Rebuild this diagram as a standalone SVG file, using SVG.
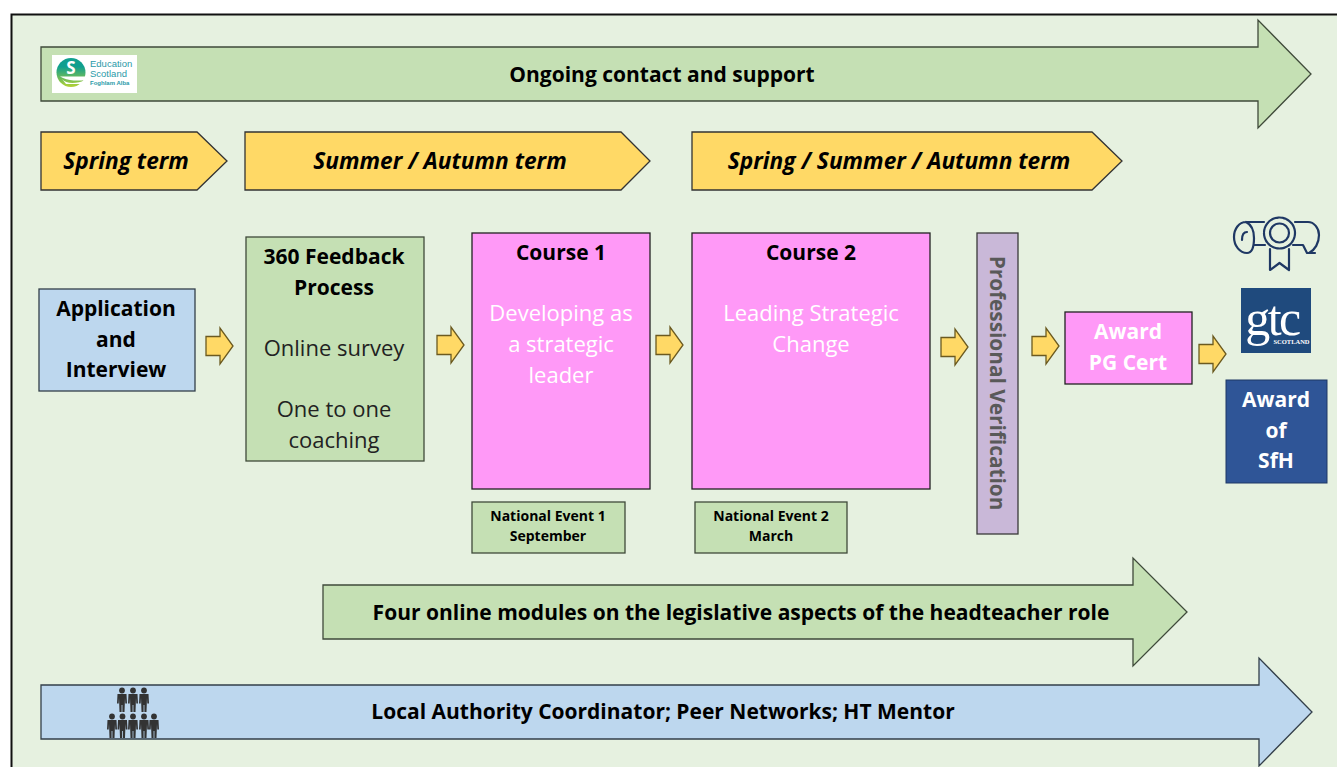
<svg xmlns="http://www.w3.org/2000/svg" width="1337" height="767" viewBox="0 0 1337 767">
<style>
text{font-family:"Open Sans","Noto Sans","DejaVu Sans",sans-serif;text-anchor:middle;fill:#000}
.b{font-weight:700;font-size:21px}
.r{font-weight:400;font-size:22px;fill:#222}
.i{font-weight:700;font-style:italic;font-size:22.700px}
.w{font-weight:400;font-size:22px;fill:#fff}
.wb{font-weight:700;font-size:21px;fill:#fff}
.s{font-weight:700;font-size:14px}
.l{text-anchor:start;fill:#2a9aa8;font-family:"Liberation Sans",sans-serif}
.g{fill:#c5e0b4;stroke:#3f4a3a;stroke-width:1.300}
.bl{fill:#bdd7ee;stroke:#333f4a;stroke-width:1.300}
.y{fill:#ffd966;stroke:#333;stroke-width:1.300}
.p{fill:#ff99f7;stroke:#222;stroke-width:1.300}
.sa{fill:#ffd966;stroke:#6b5a20;stroke-width:1.300}
.ic{fill:none;stroke:#1f3864;stroke-width:2.200;stroke-linejoin:round;stroke-linecap:round}
.pp{fill:#333}
</style>
<defs>
<linearGradient id="eg" x1="0" y1="0" x2="0" y2="1"><stop offset="0.300" stop-color="#0f9f8f"/><stop offset="1" stop-color="#b5d233"/></linearGradient>
<path id="sa" class="sa" d="M0 -9.500H14V-18L27 0L14 18V9.500H0Z"/>
<g id="man"><circle cx="0" cy="-8.500" r="2.900"/><path d="M-4.500 -5H4.500L5 4.500H3.300L3 -1L2.500 13H0.400V6H-0.400V13H-2.500L-3 -1L-3.300 4.500H-5Z"/></g>
</defs>
<rect x="11.500" y="14.500" width="1330" height="760" fill="#e6f1e0" stroke="#111" stroke-width="2"/>

<g id="ongoing"><path class="g" d="M41 47H1258V20L1311 74L1258 128V101H41Z"/>
<rect x="52" y="55" width="85" height="38" fill="#fff"/>
<circle cx="71" cy="72.500" r="14.500" fill="url(#eg)"/><path d="M62 79C66 84 76 84 86 80V84H66Z" fill="#fff"/><path d="M60 76.500H86V80C78 81 70 81 63 78Z" fill="#fff"/>
<text x="71" y="74" style="font-size:17px;font-weight:700;fill:#fff">S</text>
<text class="l" x="90" y="67" style="font-size:9.500px">Education</text>
<text class="l" x="90" y="76.500" style="font-size:9.500px">Scotland</text>
<text class="l" x="90" y="85" style="font-size:6px;font-weight:700">Foghlam Alba</text>
<text class="b" x="662" y="81.500">Ongoing contact and support</text></g>

<g id="term1"><path class="y" d="M41 132H197L227 161L197 190H41Z"/><text class="i" x="126" y="168.500">Spring term</text></g>
<g id="term2"><path class="y" d="M245 132H621L650 161L621 190H245Z"/><text class="i" x="440" y="168.500">Summer / Autumn term</text></g>
<g id="term3"><path class="y" d="M692 132H1092L1122 161L1092 190H692Z"/><text class="i" x="899" y="168.500">Spring / Summer / Autumn term</text></g>

<g id="application"><rect class="bl" x="39" y="289" width="156" height="102"/>
<text class="b" x="116" y="316">Application</text><text class="b" x="116" y="347">and</text><text class="b" x="116" y="377">Interview</text></g>

<g id="feedback"><rect class="g" x="246" y="237" width="178" height="224"/>
<text class="b" x="334" y="264">360 Feedback</text><text class="b" x="334" y="295">Process</text>
<text class="r" x="334" y="356">Online survey</text><text class="r" x="334" y="417">One to one</text><text class="r" x="334" y="448">coaching</text></g>

<g id="course1"><rect class="p" x="472" y="233" width="178" height="256"/>
<text class="b" x="561" y="260">Course 1</text><text class="w" x="561" y="321">Developing as</text><text class="w" x="561" y="352">a strategic</text><text class="w" x="561" y="383">leader</text></g>

<g id="course2"><rect class="p" x="692" y="233" width="238" height="256"/>
<text class="b" x="811" y="260">Course 2</text><text class="w" x="811" y="321">Leading Strategic</text><text class="w" x="811" y="352">Change</text></g>

<g id="event1"><rect class="g" x="472" y="502" width="153" height="51"/><text class="s" x="548" y="521">National Event 1</text><text class="s" x="548" y="541">September</text></g>
<g id="event2"><rect class="g" x="695" y="502" width="152" height="51"/><text class="s" x="771" y="521">National Event 2</text><text class="s" x="771" y="541">March</text></g>

<g id="verification"><rect x="977" y="233" width="41" height="301" fill="#c9b8d8" stroke="#3a3a3a" stroke-width="1.300"/>
<text transform="translate(989.500 383) rotate(90)" style="font-size:20.800px;font-weight:700;fill:#595959">Professional Verification</text></g>

<g id="pgcert"><rect class="p" x="1065" y="312" width="127" height="72"/><text class="wb" x="1128" y="339">Award</text><text class="wb" x="1128" y="370">PG Cert</text></g>

<g id="sfh"><rect x="1226" y="380" width="101" height="103" fill="#2f5597" stroke="#1f3864"/><text class="wb" x="1276" y="407">Award</text><text class="wb" x="1276" y="438">of</text><text class="wb" x="1276" y="468">SfH</text></g>

<g id="scroll">
<path class="ic" d="M1264 222H1246C1239 222 1234 229 1234 237C1234 246 1240 253 1247 253C1252 253 1254 246 1254 238C1254 231 1252 225 1246 222M1247 232C1244 232 1242 235 1242 240M1295 222H1308C1314 222 1319 228 1319 235C1319 243 1315 250 1309 253H1315M1254 245H1265M1293 245H1303L1307 253H1309M1270 249V270L1279.500 263L1289 270V249"/>
<circle class="ic" cx="1279.500" cy="233" r="15.500" stroke-dasharray="3 0.800"/><circle class="ic" cx="1279.500" cy="233" r="9.500"/></g>

<g id="gtc"><rect x="1241" y="288" width="70" height="65" fill="#1f4a7d"/>
<text x="1272" y="335" style="font-family:'Liberation Serif',serif;font-size:50px;fill:#fff;letter-spacing:-2.500px">gtc</text>
<text x="1291.500" y="344" style="font-family:'Liberation Serif',serif;font-size:6.500px;font-weight:700;fill:#fff">SCOTLAND</text></g>

<g id="modules"><path class="g" d="M323 585H1133V558L1187 612L1133 666V639H323Z"/><text class="b" x="741" y="619.500">Four online modules on the legislative aspects of the headteacher role</text></g>

<g id="coordinator"><path class="bl" d="M41 685H1259V658L1312 712L1259 766V739H41Z"/>
<g class="pp"><use href="#man" x="122" y="699"/><use href="#man" x="133" y="699"/><use href="#man" x="144" y="699"/>
<use href="#man" x="112" y="725"/><use href="#man" x="122.500" y="725"/><use href="#man" x="133" y="725"/><use href="#man" x="144" y="725"/><use href="#man" x="154" y="725"/></g>
<text class="b" x="663" y="718.500">Local Authority Coordinator; Peer Networks; HT Mentor</text></g>

<g id="connectors">
<use href="#sa" x="206" y="346"/><use href="#sa" x="437" y="345"/><use href="#sa" x="656" y="345"/><use href="#sa" x="941" y="347"/><use href="#sa" x="1032" y="346"/><use href="#sa" x="1199" y="354"/>
</g>
</svg>
